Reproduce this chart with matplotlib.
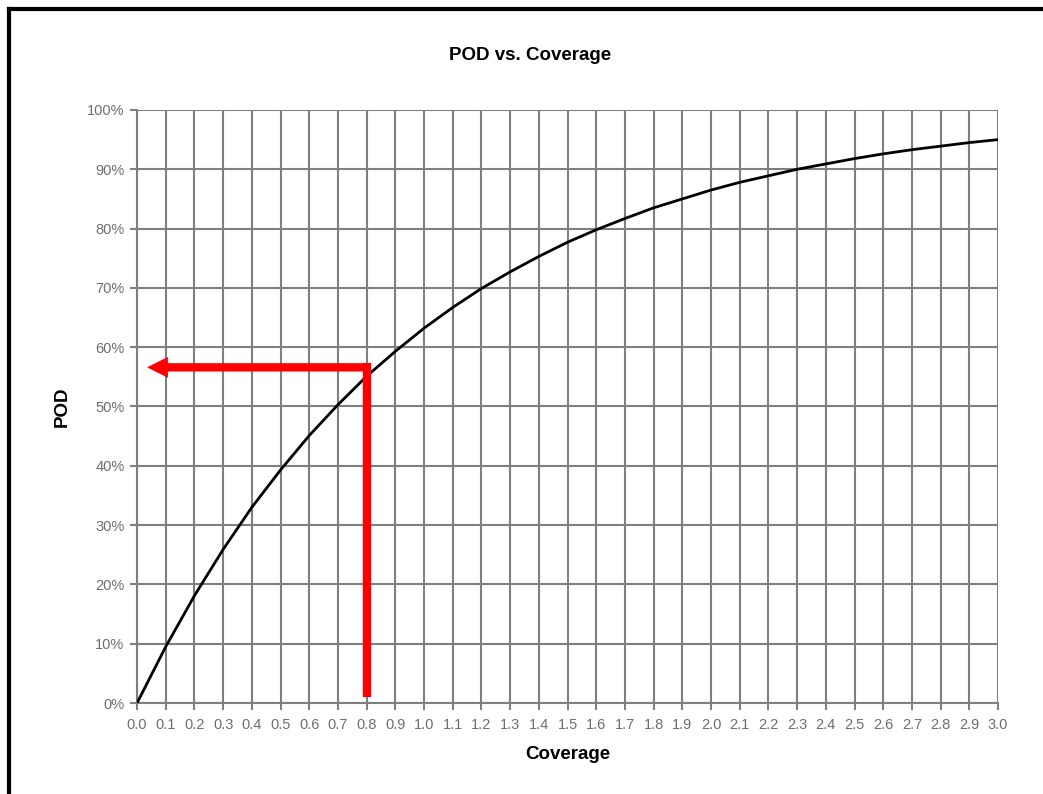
import matplotlib.pyplot as plt
from matplotlib.lines import Line2D
from matplotlib.ticker import FuncFormatter, MultipleLocator

plt.rcParams['font.family'] = ['Liberation Sans', 'DejaVu Sans']

# coverage steps and POD values
coverage = [0.0, 0.1, 0.2, 0.3, 0.4, 0.5, 0.6, 0.7, 0.8, 0.9, 1.0,
            1.1, 1.2, 1.3, 1.4, 1.5, 1.6, 1.7, 1.8, 1.9, 2.0,
            2.1, 2.2, 2.3, 2.4, 2.5, 2.6, 2.7, 2.8, 2.9, 3.0]
pod = [0.000, 0.095, 0.181, 0.259, 0.330, 0.393, 0.451, 0.503, 0.551, 0.593, 0.632,
       0.667, 0.699, 0.727, 0.753, 0.777, 0.798, 0.817, 0.835, 0.850, 0.865,
       0.878, 0.889, 0.900, 0.909, 0.918, 0.926, 0.933, 0.939, 0.945, 0.950]

# red arrow: up from the bottom at 0.8, then left to the axis
arrow_x = 0.8
arrow_y = 0.566
arrow_bottom = 0.01
arrow_tip = 0.035

GRID = '#7f7f7f'
TICKCOL = '#6e6e6e'

fig = plt.figure(figsize=(10.43, 7.94), dpi=100)
ax = fig.add_axes([0.1314, 0.1146, 0.8255, 0.7469])

ax.plot(coverage, pod, color='black', linewidth=2, zorder=3)

ax.set_xlim(0, 3.0)
ax.set_ylim(0, 1.0)
ax.xaxis.set_major_locator(MultipleLocator(0.1))
ax.yaxis.set_major_locator(MultipleLocator(0.1))
ax.xaxis.set_major_formatter(FuncFormatter(lambda v, p: '%.1f' % v))
ax.yaxis.set_major_formatter(FuncFormatter(lambda v, p: '%d%%' % round(v * 100)))
ax.grid(True, color=GRID, linewidth=1.5, zorder=1)
for side in ['top', 'right']:
    ax.spines[side].set_visible(False)
for side in ['left', 'bottom']:
    ax.spines[side].set_color(GRID)
    ax.spines[side].set_linewidth(1.5)
ax.tick_params(axis='both', colors=GRID, labelcolor=TICKCOL, labelsize=10.5,
               length=5, width=1.5, direction='out')
ax.tick_params(axis='x', pad=6)
ax.tick_params(axis='y', pad=4)

# red marker: vertical bar and arrow pointing at the y axis
ax.plot([arrow_x, arrow_x], [arrow_bottom, arrow_y + 0.007], color='red', linewidth=6,
        solid_capstyle='butt', zorder=4)
ax.annotate('', xy=(arrow_tip, arrow_y), xytext=(arrow_x + 0.012, arrow_y),
            arrowprops=dict(width=6, headwidth=15, headlength=15, shrink=0,
                            facecolor='red', edgecolor='none'),
            zorder=5)

fig.text(530 / 1043, 1 - 56 / 794, 'POD vs. Coverage', fontsize=13.5, fontweight='bold',
         ha='center', va='center')
ax.set_xlabel('Coverage', fontsize=13.5, fontweight='bold', labelpad=10)
ax.set_ylabel('POD', fontsize=13.5, fontweight='bold', labelpad=12)

# black frame on left and top edges
fig.add_artist(Line2D([0.009, 0.009], [0.0, 0.989], transform=fig.transFigure,
                      color='black', linewidth=3))
fig.add_artist(Line2D([0.009, 1.0], [0.989, 0.989], transform=fig.transFigure,
                      color='black', linewidth=3))

plt.savefig('out.png', dpi=100)
